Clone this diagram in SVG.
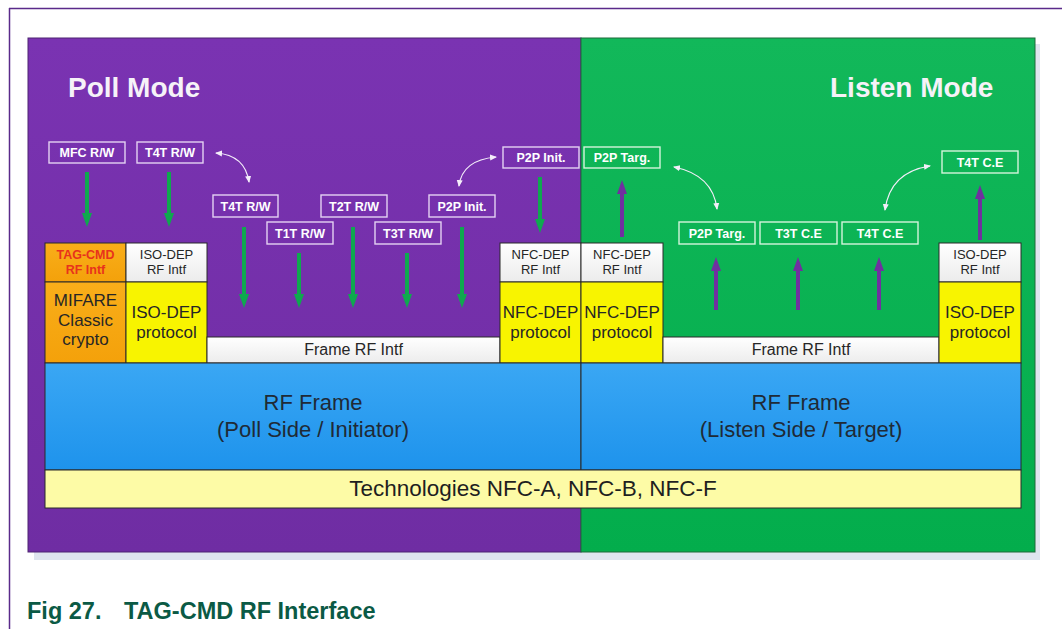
<svg xmlns="http://www.w3.org/2000/svg" width="1062" height="629" viewBox="0 0 1062 629">
<defs>
<linearGradient id="gPurple" x1="0" y1="0" x2="0" y2="1">
<stop offset="0" stop-color="#7a33b2"/><stop offset="1" stop-color="#6f2da3"/>
</linearGradient>
<linearGradient id="gGreen" x1="0" y1="0" x2="0" y2="1">
<stop offset="0" stop-color="#12b85a"/><stop offset="1" stop-color="#03ad4c"/>
</linearGradient>
<linearGradient id="gBlue" x1="0" y1="0" x2="0" y2="1">
<stop offset="0" stop-color="#3aa7f4"/><stop offset="1" stop-color="#1e93ec"/>
</linearGradient>
<linearGradient id="gOrange" x1="0" y1="0" x2="0" y2="1">
<stop offset="0" stop-color="#f9ae1a"/><stop offset="1" stop-color="#f4a10a"/>
</linearGradient>
<linearGradient id="gWhite" x1="0" y1="0" x2="0" y2="1">
<stop offset="0" stop-color="#ffffff"/><stop offset="1" stop-color="#ececec"/>
</linearGradient>
<marker id="hGreen" viewBox="0 -6 15 12" refX="0" refY="0" markerWidth="15" markerHeight="12" markerUnits="userSpaceOnUse" orient="auto">
<path d="M0,-5 L14,0 L0,5 z" fill="#0fa84f"/>
</marker>
<marker id="hPurple" viewBox="0 -6 15 12" refX="0" refY="0" markerWidth="15" markerHeight="12" markerUnits="userSpaceOnUse" orient="auto">
<path d="M0,-5 L14,0 L0,5 z" fill="#7030a0"/>
</marker>
<marker id="hWhite" viewBox="0 -4 8 8" refX="6" refY="0" markerWidth="8" markerHeight="8" markerUnits="userSpaceOnUse" orient="auto-start-reverse">
<path d="M0,-3 L7,0 L0,3 z" fill="#f4eefa"/>
</marker>
<style>
text{font-family:"Liberation Sans",Arial,sans-serif}
.title{font-size:28px;font-weight:bold;fill:#f6f2f8}
.lbl{fill:none;stroke:#e4d2f2;stroke-width:1.4}
.lblg{fill:none;stroke:#d4f4dc;stroke-width:1.4}
.lt{font-size:12.5px;font-weight:bold;fill:#ffffff;text-anchor:middle}
.box{stroke:#2a2a2a;stroke-width:1}
.sm{font-size:13px;fill:#262626;text-anchor:middle}
.md{font-size:17px;fill:#262626;text-anchor:middle}
.lg{font-size:22px;fill:#1f2a36;text-anchor:middle}
.ga{stroke:#0fa84f;stroke-width:4;fill:none;marker-end:url(#hGreen)}
.pa{stroke:#7030a0;stroke-width:4;fill:none;marker-end:url(#hPurple)}
.ca{stroke:#f4eefa;stroke-width:1.2;fill:none;marker-start:url(#hWhite);marker-end:url(#hWhite)}
</style>
</defs>
<rect width="1062" height="629" fill="#ffffff"/>
<!-- frame -->
<line x1="9" y1="8.5" x2="1062" y2="8.5" stroke="#5a2a8a" stroke-width="1.5"/>
<line x1="9.5" y1="8" x2="9.5" y2="629" stroke="#5a2a8a" stroke-width="1.5"/>
<!-- shadow -->
<rect x="34" y="44" width="1006" height="516" fill="#dfe5ef"/>
<!-- backgrounds -->
<g id="poll-bg">
<rect x="28" y="38" width="553" height="514" fill="url(#gPurple)" stroke="#4e2572" stroke-width="1"/>
<text class="title" x="68" y="97">Poll Mode</text>
</g>
<g id="listen-bg">
<rect x="581" y="38" width="454" height="514" fill="url(#gGreen)" stroke="#1f6a3a" stroke-width="1"/>
<text class="title" x="830" y="97">Listen Mode</text>
</g>
<!-- stack -->
<g id="tagcmd-rf-intf">
<rect class="box" x="45" y="243" width="81" height="39" fill="url(#gOrange)"/>
<text x="85.5" y="259" style="font-size:12.5px;font-weight:bold;fill:#e8321c;text-anchor:middle">TAG-CMD</text>
<text x="85.5" y="274" style="font-size:12.5px;font-weight:bold;fill:#e8321c;text-anchor:middle">RF Intf</text>
</g>
<g id="isodep-rf-intf-poll">
<rect class="box" x="126" y="243" width="81" height="39" fill="url(#gWhite)"/>
<text class="sm" x="166.5" y="259">ISO-DEP</text>
<text class="sm" x="166.5" y="274">RF Intf</text>
</g>
<g id="mifare-crypto">
<rect class="box" x="45" y="282" width="81" height="81" fill="url(#gOrange)"/>
<text class="md" x="85.5" y="306">MIFARE</text>
<text class="md" x="85.5" y="326">Classic</text>
<text class="md" x="85.5" y="345">crypto</text>
</g>
<g id="isodep-protocol-poll">
<rect class="box" x="126" y="282" width="81" height="81" fill="#f8f400"/>
<text class="md" x="166.5" y="318">ISO-DEP</text>
<text class="md" x="166.5" y="338">protocol</text>
</g>
<g id="frame-rf-intf-poll">
<rect class="box" x="207" y="337" width="293" height="26" fill="url(#gWhite)"/>
<text x="353.5" y="355" style="font-size:16px;fill:#262626;text-anchor:middle">Frame RF Intf</text>
</g>
<g id="nfcdep-rf-intf-poll">
<rect class="box" x="500" y="243" width="81" height="39" fill="url(#gWhite)"/>
<text class="sm" x="540.5" y="259">NFC-DEP</text>
<text class="sm" x="540.5" y="274">RF Intf</text>
</g>
<g id="nfcdep-protocol-poll">
<rect class="box" x="500" y="282" width="81" height="81" fill="#f8f400"/>
<text class="md" x="540.5" y="318">NFC-DEP</text>
<text class="md" x="540.5" y="338">protocol</text>
</g>
<g id="nfcdep-rf-intf-listen">
<rect class="box" x="581" y="243" width="82" height="39" fill="url(#gWhite)"/>
<text class="sm" x="622" y="259">NFC-DEP</text>
<text class="sm" x="622" y="274">RF Intf</text>
</g>
<g id="nfcdep-protocol-listen">
<rect class="box" x="581" y="282" width="82" height="81" fill="#f8f400"/>
<text class="md" x="622" y="318">NFC-DEP</text>
<text class="md" x="622" y="338">protocol</text>
</g>
<g id="frame-rf-intf-listen">
<rect class="box" x="663" y="337" width="276" height="26" fill="url(#gWhite)"/>
<text x="801" y="355" style="font-size:16px;fill:#262626;text-anchor:middle">Frame RF Intf</text>
</g>
<g id="isodep-rf-intf-listen">
<rect class="box" x="939" y="243" width="82" height="39" fill="url(#gWhite)"/>
<text class="sm" x="980" y="259">ISO-DEP</text>
<text class="sm" x="980" y="274">RF Intf</text>
</g>
<g id="isodep-protocol-listen">
<rect class="box" x="939" y="282" width="82" height="81" fill="#f8f400"/>
<text class="md" x="980" y="318">ISO-DEP</text>
<text class="md" x="980" y="338">protocol</text>
</g>
<g id="rf-frame-poll">
<rect class="box" x="45" y="363" width="536" height="107" fill="url(#gBlue)"/>
<text class="lg" x="313" y="410">RF Frame</text>
<text class="lg" x="313" y="437">(Poll Side / Initiator)</text>
</g>
<g id="rf-frame-listen">
<rect class="box" x="581" y="363" width="440" height="107" fill="url(#gBlue)"/>
<text class="lg" x="801" y="410">RF Frame</text>
<text class="lg" x="801" y="437">(Listen Side / Target)</text>
</g>
<g id="technologies">
<rect class="box" x="45" y="470" width="976" height="38" fill="#fdfba6"/>
<text x="533" y="496" style="font-size:22.5px;fill:#1f1f1f;text-anchor:middle">Technologies NFC-A, NFC-B, NFC-F</text>
</g>
<!-- label nodes -->
<g id="mfc-rw"><rect class="lbl" x="49" y="142" width="76" height="21"/><text class="lt" x="87" y="157">MFC R/W</text></g>
<g id="t4t-rw-1"><rect class="lbl" x="137" y="142" width="66" height="21"/><text class="lt" x="170" y="157">T4T R/W</text></g>
<g id="t4t-rw-2"><rect class="lbl" x="213" y="195" width="65" height="22"/><text class="lt" x="245.5" y="211">T4T R/W</text></g>
<g id="t1t-rw"><rect class="lbl" x="267" y="222" width="66" height="22"/><text class="lt" x="300" y="238">T1T R/W</text></g>
<g id="t2t-rw"><rect class="lbl" x="321" y="195" width="66" height="22"/><text class="lt" x="354" y="211">T2T R/W</text></g>
<g id="t3t-rw"><rect class="lbl" x="375" y="222" width="66" height="22"/><text class="lt" x="408" y="238">T3T R/W</text></g>
<g id="p2p-init-1"><rect class="lbl" x="429" y="195" width="66" height="22"/><text class="lt" x="462" y="211">P2P Init.</text></g>
<g id="p2p-init-2"><rect class="lbl" x="503" y="147" width="76" height="21"/><text class="lt" x="541" y="162">P2P Init.</text></g>
<g id="p2p-targ-1"><rect class="lblg" x="584" y="147" width="76" height="21"/><text class="lt" x="622" y="162">P2P Targ.</text></g>
<g id="p2p-targ-2"><rect class="lblg" x="679" y="222" width="76" height="22"/><text class="lt" x="717" y="238">P2P Targ.</text></g>
<g id="t3t-ce"><rect class="lblg" x="760" y="222" width="77" height="22"/><text class="lt" x="798.5" y="238">T3T C.E</text></g>
<g id="t4t-ce-1"><rect class="lblg" x="842" y="222" width="76" height="22"/><text class="lt" x="880" y="238">T4T C.E</text></g>
<g id="t4t-ce-2"><rect class="lblg" x="942" y="151" width="76" height="22"/><text class="lt" x="980" y="167">T4T C.E</text></g>
<!-- connectors -->
<g id="connectors">
<line class="ga" x1="87" y1="172" x2="87" y2="213"/>
<line class="ga" x1="169" y1="172" x2="169" y2="213"/>
<line class="ga" x1="244" y1="227" x2="244" y2="294"/>
<line class="ga" x1="299" y1="253" x2="299" y2="294"/>
<line class="ga" x1="353" y1="227" x2="353" y2="294"/>
<line class="ga" x1="407" y1="253" x2="407" y2="294"/>
<line class="ga" x1="462" y1="227" x2="462" y2="294"/>
<line class="ga" x1="540" y1="177" x2="540" y2="219"/>
<line class="pa" x1="622" y1="237" x2="622" y2="194"/>
<line class="pa" x1="716" y1="310" x2="716" y2="271"/>
<line class="pa" x1="798" y1="310" x2="798" y2="271"/>
<line class="pa" x1="879" y1="310" x2="879" y2="271"/>
<line class="pa" x1="980" y1="240" x2="980" y2="199"/>
<path class="ca" d="M216,153 Q245,155 249,182"/>
<path class="ca" d="M459,186 Q462,160 496,157"/>
<path class="ca" d="M674,167 Q713,175 717,209"/>
<path class="ca" d="M885,210 Q890,172 930,166"/>
</g>
<!-- caption -->
<text x="27" y="619" style="font-size:23.5px;font-weight:bold;fill:#0b5a45">Fig 27.</text>
<text x="124" y="619" style="font-size:23.5px;font-weight:bold;fill:#0b5a45">TAG-CMD RF Interface</text>
</svg>
